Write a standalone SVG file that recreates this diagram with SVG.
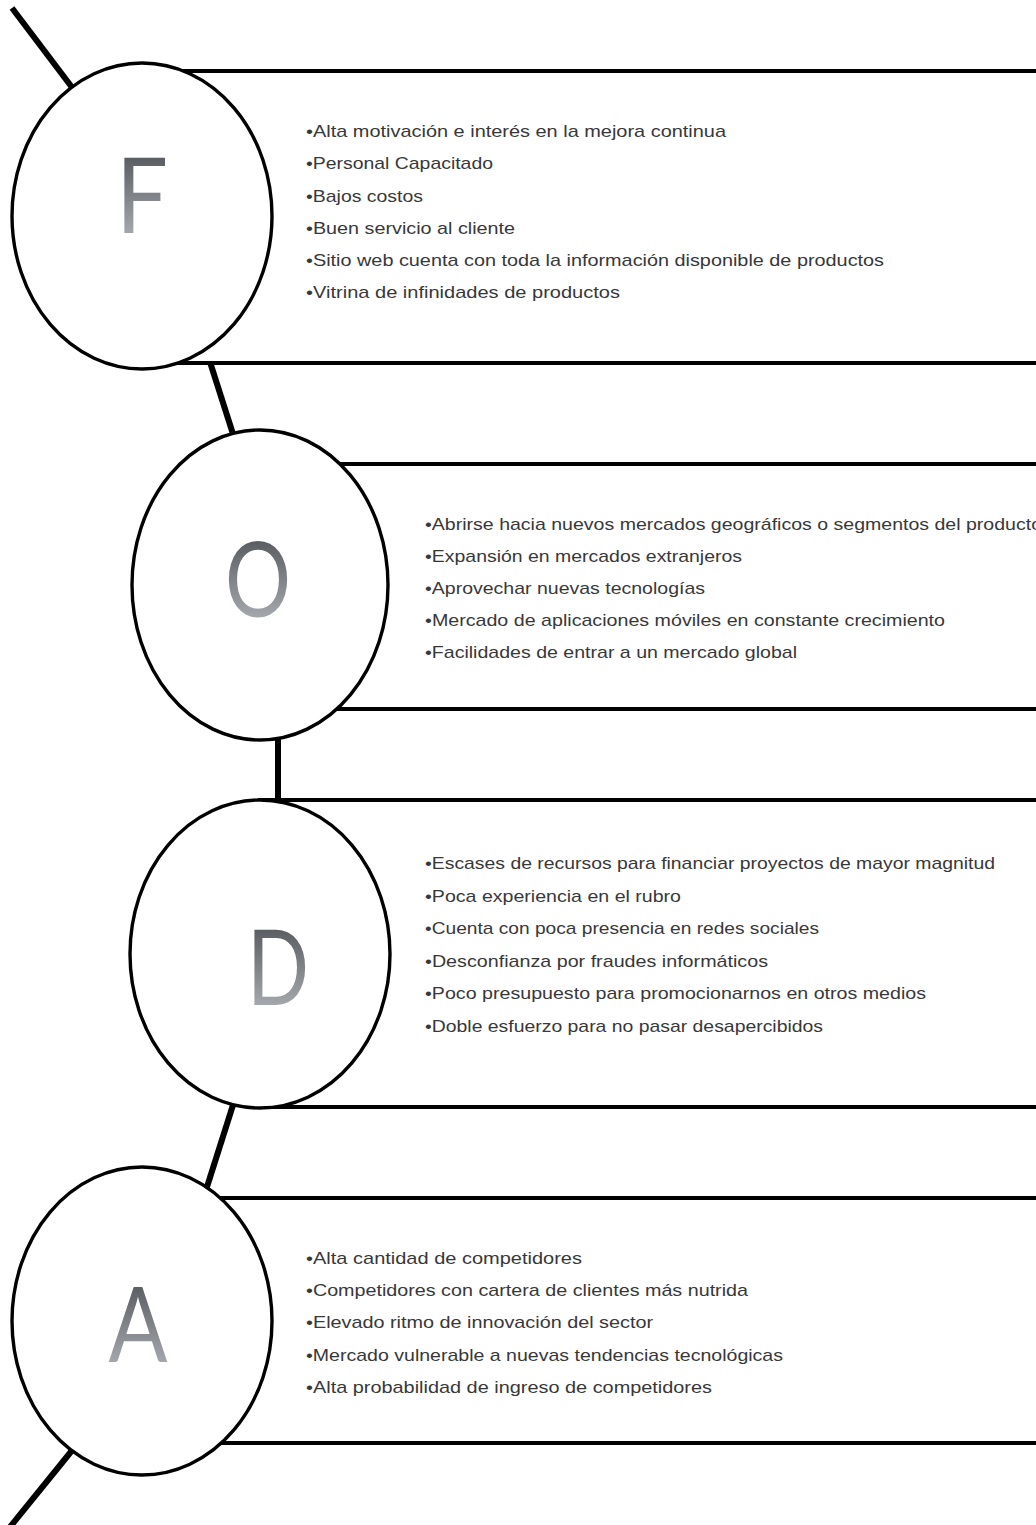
<svg xmlns="http://www.w3.org/2000/svg" width="1036" height="1525" viewBox="0 0 1036 1525">
<defs>
<linearGradient id="lg" x1="0" y1="0" x2="0" y2="1">
<stop offset="0" stop-color="#404348"/>
<stop offset="1" stop-color="#b9bcc1"/>
</linearGradient>
<style>
.spine{stroke:#000;stroke-width:6;fill:none;stroke-linecap:butt}
.box{fill:#fff;stroke:#000;stroke-width:4}
.circ{fill:#fff;stroke:#000;stroke-width:3.4}
.letter{font-family:Lato,"Liberation Sans",sans-serif;font-weight:400;font-size:104px;fill:url(#lg);text-anchor:middle}
.item{font-family:"Liberation Sans",Arial,sans-serif;font-size:17px;fill:#383838}
</style>
</defs>
<rect width="1036" height="1525" fill="#fff"/>
<g id="connectors">
<line class="spine" x1="12" y1="8" x2="74" y2="90"/>
<line class="spine" x1="210" y1="362" x2="233" y2="434"/>
<line class="spine" x1="278" y1="738" x2="278" y2="802"/>
<line class="spine" x1="233" y1="1105" x2="206" y2="1190"/>
<line class="spine" x1="74" y1="1448" x2="10" y2="1527"/>
</g>
<g id="node-F">
<rect class="box" x="142" y="71" width="960" height="292"/>
<ellipse class="circ" cx="142" cy="216" rx="130" ry="153"/>
<text class="letter" x="142" y="233" textLength="52" lengthAdjust="spacingAndGlyphs">F</text>
<text class="item" x="306" y="137" textLength="420" lengthAdjust="spacingAndGlyphs">•Alta motivación e interés en la mejora continua</text>
<text class="item" x="306" y="169" textLength="187" lengthAdjust="spacingAndGlyphs">•Personal Capacitado</text>
<text class="item" x="306" y="202" textLength="117" lengthAdjust="spacingAndGlyphs">•Bajos costos</text>
<text class="item" x="306" y="234" textLength="209" lengthAdjust="spacingAndGlyphs">•Buen servicio al cliente</text>
<text class="item" x="306" y="266" textLength="578" lengthAdjust="spacingAndGlyphs">•Sitio web cuenta con toda la información disponible de productos</text>
<text class="item" x="306" y="298" textLength="314" lengthAdjust="spacingAndGlyphs">•Vitrina de infinidades de productos</text>
</g>
<g id="node-O">
<rect class="box" x="260" y="464" width="840" height="245"/>
<ellipse class="circ" cx="260" cy="585" rx="128" ry="155"/>
<text class="letter" x="258" y="617" textLength="66" lengthAdjust="spacingAndGlyphs">O</text>
<text class="item" x="425" y="530" textLength="617" lengthAdjust="spacingAndGlyphs">•Abrirse hacia nuevos mercados geográficos o segmentos del producto</text>
<text class="item" x="425" y="562" textLength="317" lengthAdjust="spacingAndGlyphs">•Expansión en mercados extranjeros</text>
<text class="item" x="425" y="594" textLength="280" lengthAdjust="spacingAndGlyphs">•Aprovechar nuevas tecnologías</text>
<text class="item" x="425" y="626" textLength="520" lengthAdjust="spacingAndGlyphs">•Mercado de aplicaciones móviles en constante crecimiento</text>
<text class="item" x="425" y="658" textLength="372" lengthAdjust="spacingAndGlyphs">•Facilidades de entrar a un mercado global</text>
</g>
<g id="node-D">
<rect class="box" x="260" y="800" width="840" height="307"/>
<ellipse class="circ" cx="260" cy="954" rx="130" ry="154"/>
<text class="letter" x="278" y="1005" textLength="62" lengthAdjust="spacingAndGlyphs">D</text>
<text class="item" x="425" y="869" textLength="570" lengthAdjust="spacingAndGlyphs">•Escases de recursos para financiar proyectos de mayor magnitud</text>
<text class="item" x="425" y="902" textLength="256" lengthAdjust="spacingAndGlyphs">•Poca experiencia en el rubro</text>
<text class="item" x="425" y="934" textLength="394" lengthAdjust="spacingAndGlyphs">•Cuenta con poca presencia en redes sociales</text>
<text class="item" x="425" y="967" textLength="343" lengthAdjust="spacingAndGlyphs">•Desconfianza por fraudes informáticos</text>
<text class="item" x="425" y="999" textLength="501" lengthAdjust="spacingAndGlyphs">•Poco presupuesto para promocionarnos en otros medios</text>
<text class="item" x="425" y="1032" textLength="398" lengthAdjust="spacingAndGlyphs">•Doble esfuerzo para no pasar desapercibidos</text>
</g>
<g id="node-A">
<rect class="box" x="142" y="1198" width="960" height="245"/>
<ellipse class="circ" cx="142" cy="1321" rx="130" ry="154"/>
<text class="letter" x="138" y="1362" textLength="59" lengthAdjust="spacingAndGlyphs">A</text>
<text class="item" x="306" y="1264" textLength="276" lengthAdjust="spacingAndGlyphs">•Alta cantidad de competidores</text>
<text class="item" x="306" y="1296" textLength="442" lengthAdjust="spacingAndGlyphs">•Competidores con cartera de clientes más nutrida</text>
<text class="item" x="306" y="1328" textLength="347" lengthAdjust="spacingAndGlyphs">•Elevado ritmo de innovación del sector</text>
<text class="item" x="306" y="1361" textLength="477" lengthAdjust="spacingAndGlyphs">•Mercado vulnerable a nuevas tendencias tecnológicas</text>
<text class="item" x="306" y="1393" textLength="406" lengthAdjust="spacingAndGlyphs">•Alta probabilidad de ingreso de competidores</text>
</g>
</svg>
